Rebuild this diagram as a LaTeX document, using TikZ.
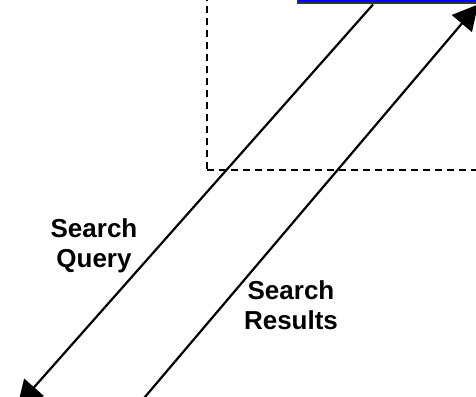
\documentclass[tikz,border=0pt]{standalone}
\usepackage{fontspec}
\setmainfont{Liberation Sans}
\usetikzlibrary{arrows.meta}
\definecolor{serverblue}{RGB}{0,0,255}
\tikzset{
  serverbox/.style={draw=black!80, line width=2pt, fill=serverblue, rectangle, inner sep=0pt},
  framebox/.style={draw=black, line width=2pt, dash pattern=on 7pt off 5pt, rectangle, inner sep=0pt},
  conn/.style={draw=black, line width=2.2pt, -{Triangle[length=25pt,width=26pt]}},
  lbl/.style={font=\fontsize{26}{30}\selectfont\bfseries, align=center, inner sep=0pt}
}
\begin{document}
\begin{tikzpicture}[x=1pt,y=-1pt]
\useasboundingbox (0,0) rectangle (476,396);
\clip (0,0) rectangle (476,396);
\node[framebox, anchor=south west, minimum width=400pt, minimum height=300pt] (frame) at (206,171) {};
\node[serverbox, anchor=south west, minimum width=260pt, minimum height=60pt] (server) at (297,4.5) {};
\coordinate (qstart) at (373,4.5);
\coordinate (qend) at (17.5,406);
\coordinate (rstart) at (139,404);
\coordinate (rend) at (478,4.5);
\draw[conn] (qstart) -- (qend);
\draw[conn] (rstart) -- (rend);
\node[lbl] (query) at (94,246) {Search\\Query};
\node[lbl] (results) at (291,305) {Search\\Results};
\end{tikzpicture}
\end{document}
